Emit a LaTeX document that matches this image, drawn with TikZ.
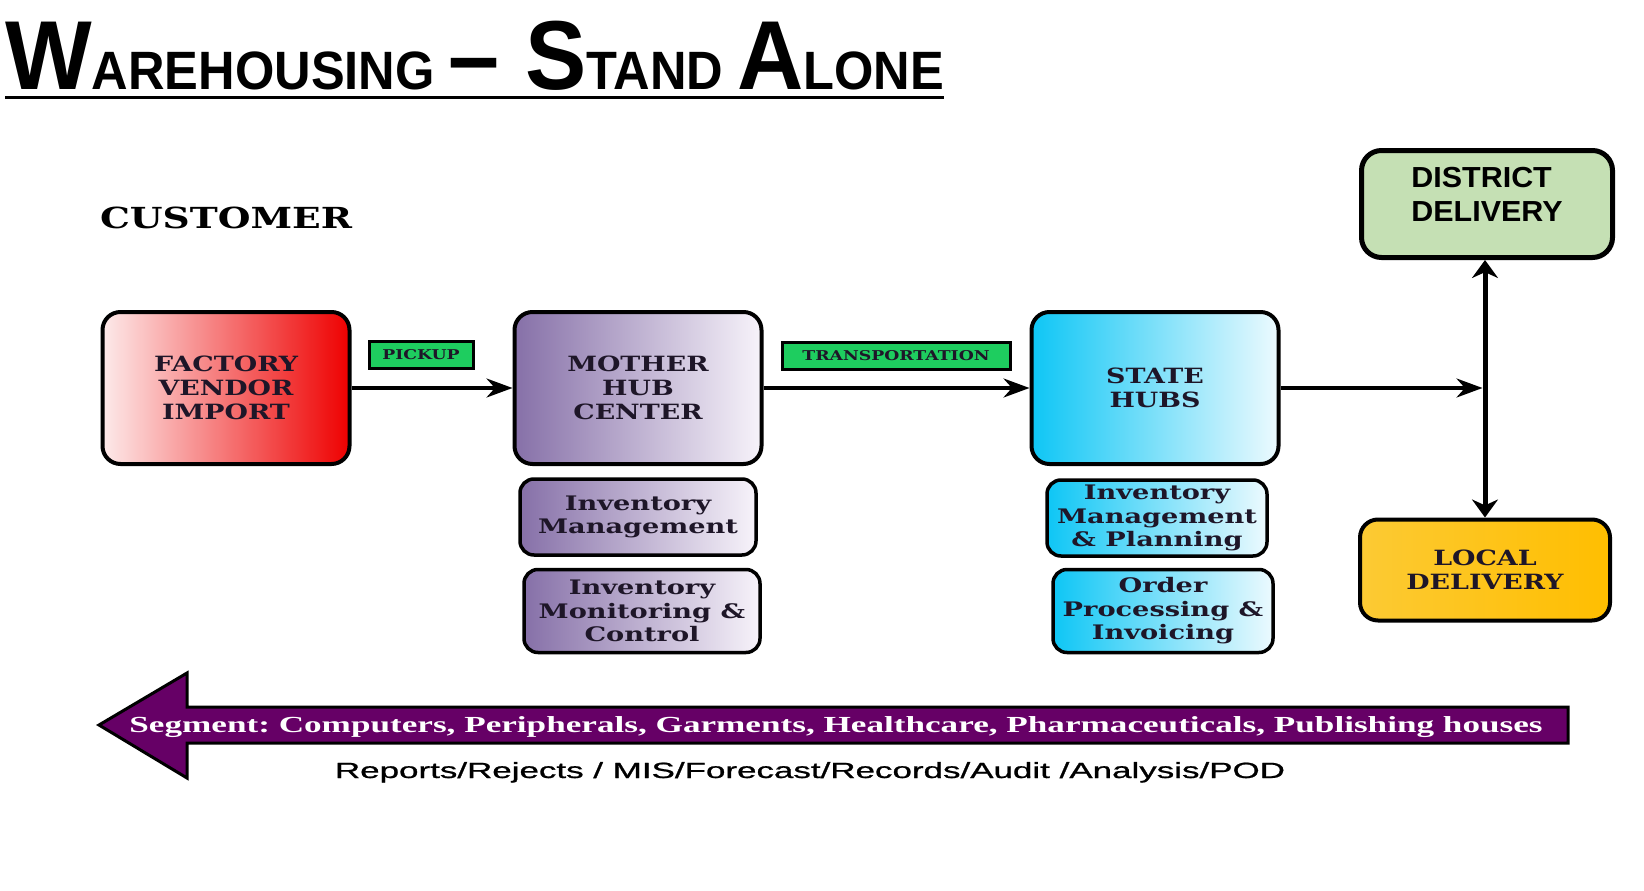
\documentclass[tikz,border=0pt]{standalone}
\usepackage{fontspec}
\usepackage{graphicx}
\setmainfont{DejaVu Serif}
\newfontfamily\titlefont{Liberation Sans}
\newfontfamily\boxfont[FakeStretch=1.28]{DejaVu Serif}
\newfontfamily\subfont[FakeStretch=1.36]{DejaVu Serif}
\newfontfamily\plainfont[FakeStretch=1.05]{Liberation Sans}
\newfontfamily\repfont[FakeBold=0.8]{Liberation Sans}
\newfontfamily\segfont{Liberation Serif}
\usetikzlibrary{arrows.meta,positioning}
\definecolor{factPink}{RGB}{253,234,234}
\definecolor{factRed}{RGB}{238,0,0}
\definecolor{hubPurple}{RGB}{134,112,168}
\definecolor{hubLight}{RGB}{247,243,250}
\definecolor{stateCyan}{RGB}{14,198,245}
\definecolor{stateLight}{RGB}{236,250,254}
\definecolor{distGreen}{RGB}{197,224,180}
\definecolor{localGold}{RGB}{252,202,52}
\definecolor{localAmber}{RGB}{255,190,0}
\definecolor{tagGreen}{RGB}{30,205,95}
\definecolor{segPurple}{RGB}{102,0,102}
\definecolor{boxText}{RGB}{30,22,40}

\newcommand{\stretchto}[2]{\resizebox{#1}{\height}{#2}}
\newcommand{\tbig}{\fontsize{98}{98}\selectfont}
\newcommand{\tsml}{\fontsize{54}{54}\selectfont}
\frenchspacing

\begin{document}
\begin{tikzpicture}[x=1pt, y=-1pt,
    mainbox/.style={draw, line width=4pt, rounded corners=18pt, minimum width=247pt, minimum height=152pt, align=center, text=boxText, font=\boxfont\bfseries\fontsize{21}{24}\selectfont},
    subbox/.style={draw, line width=3.5pt, rounded corners=14pt, minimum width=236pt, inner sep=0pt, align=center, text=boxText, font=\subfont\bfseries\fontsize{20}{23.5}\selectfont},
    tag/.style={draw, line width=3pt, fill=tagGreen, minimum height=27pt, inner sep=0pt, text=boxText, font=\boxfont\bfseries\fontsize{13.5}{14}\selectfont},
    arr/.style={-{Stealth[length=26pt, width=19pt]}, line width=3.5pt},
    darr/.style={{Stealth[length=18pt, width=26pt]}-{Stealth[length=18pt, width=26pt]}, line width=5pt},
]
\useasboundingbox (0,0) rectangle (1644,891);

% Title
\node[anchor=base west, inner sep=0pt] (title) at (5,89) {\stretchto{939pt}{\titlefont\bfseries\tbig W\tsml AREHOUSING \tbig – S\tsml TAND \tbig A\tsml LONE}};
\draw[line width=3pt] (5,97) -- (944,97);

\node[anchor=base, inner sep=0pt] (cust) at (226,228) {\stretchto{252pt}{\boxfont\bfseries\fontsize{29}{29}\selectfont CUSTOMER}};

% Hubs
\node[mainbox, left color=factPink, right color=factRed] (fac) at (226,388) {FACTORY\\VENDOR\\IMPORT};
\node[mainbox, left color=hubPurple, right color=hubLight] (mhc) at (638,388) {MOTHER\\HUB\\CENTER};
\node[mainbox, left color=stateCyan, right color=stateLight] (sth) at (1155,388) {STATE\\HUBS};

\node[subbox, minimum height=76pt, left color=hubPurple, right color=hubLight] (invm) at (638,517) {Inventory\\Management};
\node[subbox, minimum height=83pt, left color=hubPurple, right color=hubLight] (invc) at (642,611) {Inventory\\Monitoring \&\\Control};
\node[subbox, minimum width=220pt, minimum height=76pt, left color=stateCyan, right color=stateLight] (invp) at (1157,518) {Inventory\\Management\\\& Planning};
\node[subbox, minimum width=220pt, minimum height=83pt, left color=stateCyan, right color=stateLight] (ordp) at (1163,611) {Order\\Processing \&\\Invoicing};

% Delivery
\node[draw, line width=5pt, rounded corners=20pt, fill=distGreen, minimum width=251pt, minimum height=107pt, align=left, text depth=19pt, font=\plainfont\bfseries\fontsize{29}{34}\selectfont] (dist) at (1487,204) {DISTRICT\\DELIVERY};
\node[mainbox, minimum width=250pt, minimum height=101pt, left color=localGold, right color=localAmber] (loc) at (1485,570) {LOCAL\\DELIVERY};

% Labels
\node[tag, minimum width=104pt] (pick) at (421,355) {PICKUP};
\node[tag, minimum width=228pt] (trans) at (896,356) {TRANSPORTATION};

% Arrows
\coordinate (jn) at (1485,388);
\draw[arr] (fac) -- (mhc);
\draw[arr] (mhc) -- (sth);
\draw[arr, shorten >=2.5pt] (sth) -- (jn);
\draw[darr] (jn |- dist.south) -- (jn |- loc.north);

% Segment arrow
\draw[line width=3pt, fill=segPurple, line join=miter] (99,725) -- (187,673) -- (187,707) -- (1568,707) -- (1568,743) -- (187,743) -- (187,778) -- cycle;
\node[anchor=base, inner sep=0pt, text=white] (seg) at (836,732) {\stretchto{1413pt}{\segfont\bfseries\fontsize{23}{23}\selectfont Segment: Computers, Peripherals, Garments, Healthcare, Pharmaceuticals, Publishing houses}};
\node[anchor=base, inner sep=0pt] (rep) at (810,778) {\stretchto{950pt}{\repfont\fontsize{22}{22}\selectfont Reports/Rejects / MIS/Forecast/Records/Audit /Analysis/POD}};
\end{tikzpicture}
\end{document}
